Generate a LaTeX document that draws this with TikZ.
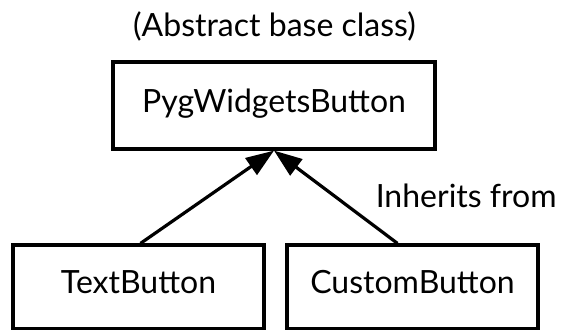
\documentclass[tikz,border=0pt]{standalone}
\usepackage{fontspec}
\setmainfont{Lato}
\usetikzlibrary{arrows.meta,positioning}

\begin{document}
\begin{tikzpicture}[
    x=0.5pt, y=-0.5pt,
    class/.style={rectangle, draw, line width=1.6pt, minimum width=125.5pt, minimum height=41.75pt, inner sep=0pt, font=\fontsize{16}{19}\selectfont, text height=0.72em, text depth=0pt},
    arrow/.style={-{Triangle[length=14pt,width=10pt]}, line width=1.6pt},
    note/.style={font=\fontsize{16}{19}\selectfont, inner sep=0pt}
]
    \useasboundingbox (0,0) rectangle (561,330);

    \node[class, minimum width=161pt, minimum height=43.5pt] (pyg) at (274,105.5) {PygWidgetsButton};
    \node[note, anchor=base] (abstract) at (274.5,36.5) {(Abstract base class)};

    \node[class] (text) at (138.5,286.75) {TextButton};
    \node[class] (custom) at (412.5,286.75) {CustomButton};

    \draw[arrow] ([xshift=1pt]text.north) -- (pyg.south);
    \draw[arrow] ([xshift=-7.5pt]custom.north) -- (pyg.south);
    \node[note, anchor=base east] (inherit) at (557,208) {Inherits from};
\end{tikzpicture}
\end{document}
